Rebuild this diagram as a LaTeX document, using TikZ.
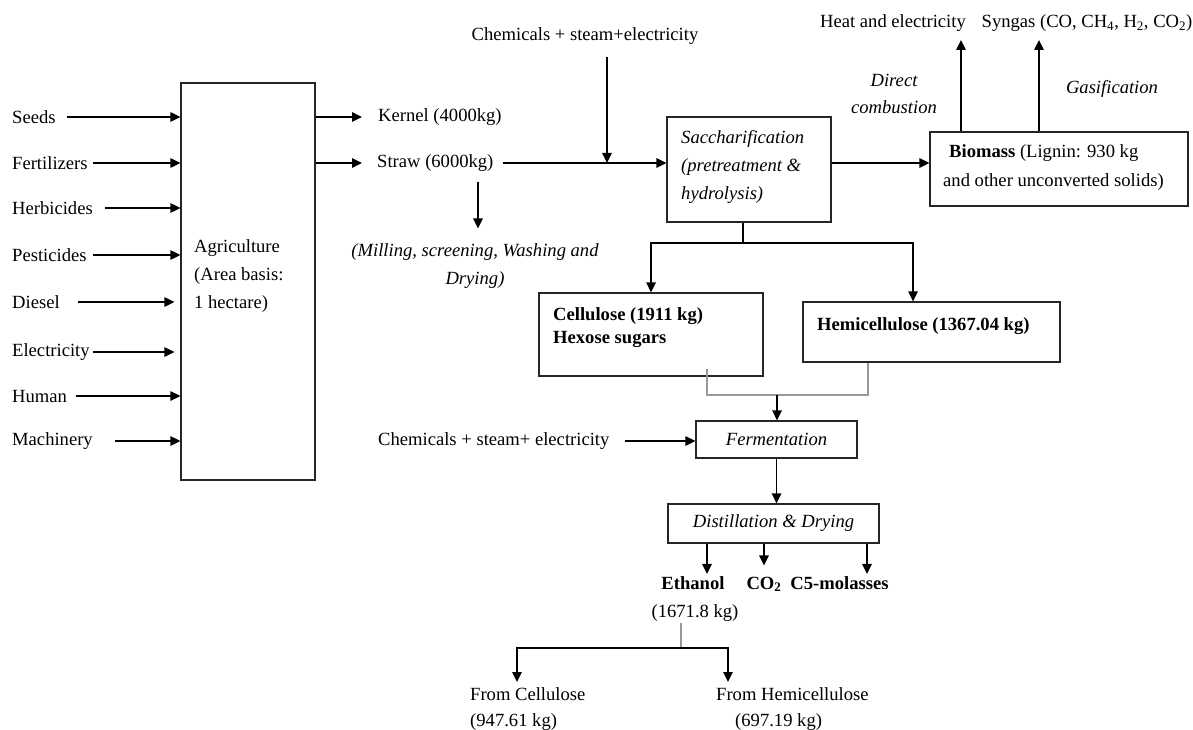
\documentclass[tikz,border=0pt]{standalone}
\usepackage{fontspec}
\setmainfont{Liberation Serif}
\usetikzlibrary{positioning, calc, arrows.meta}
\newcommand{\mainsize}{\fontsize{18.6pt}{27.8pt}\selectfont}

\begin{document}
\begin{tikzpicture}[x=1pt, y=-1pt,
    lbl/.style={inner sep=2pt, font=\mainsize},
    procbox/.style={draw=black!85, line width=1.3pt, inner sep=0pt, font=\mainsize},
    arr/.style={line width=1.4pt, -{Triangle[length=10pt,width=9.5pt]}},
    conn/.style={line width=1.4pt},
    grayconn/.style={line width=1.4pt, black!40}]
    \useasboundingbox (0,0) rectangle (1193,730);

    % agriculture stage
    \node[procbox, minimum width=134pt, minimum height=397pt] (agri) at (248,281.5) {};
    \node[lbl, anchor=west, align=left] (agritxt) at (192,276) {Agriculture\\(Area basis:\\1 hectare)};
    \foreach \i/\inp/\y/\gap/\short in {1/Seeds/117/9/0, 2/Fertilizers/163/3/0, 3/Herbicides/208/10/0,
        4/Pesticides/255/4/0, 5/Diesel/302/16/6, 6/Electricity/352/1/6, 7/Human/396/7/0, 8/Machinery/441/20/0}{
        \node[lbl, anchor=west] (in\i) at (10,\y) {\inp};
        \draw[arr, shorten >=\short pt] ([xshift=\gap pt]in\i.east) -- (agri.west |- in\i.east);
    }

    % field products
    \node[lbl, anchor=west] (kernel) at (376,117) {Kernel (4000kg)};
    \node[lbl, anchor=west] (straw) at (375,163) {Straw (6000kg)};
    \draw[arr, shorten >=14pt] (agri.east |- kernel) -- (kernel.west);
    \draw[arr, shorten >=13pt] (agri.east |- straw) -- (straw.west);
    \node[lbl, align=center, font=\mainsize\itshape] (mill) at (475,266) {(Milling, screening, Washing and\\Drying)};
    \coordinate (millin) at ([xshift=3pt]mill.north);
    \draw[arr, shorten <=8pt, shorten >=13pt] (straw.south -| millin) -- (millin);

    % saccharification
    \node[procbox, minimum width=164pt, minimum height=105pt] (sacch) at (749,169.5) {};
    \node[lbl, anchor=west, align=left, font=\mainsize\itshape] (sacchtxt) at (679,167) {Saccharification\\(pretreatment \&\\hydrolysis)};
    \node[lbl, anchor=base] (chem1) at (585,41) {Chemicals + steam+electricity};
    \coordinate (feed) at (607,163);
    \draw[arr, shorten <=7pt] (straw.east) -- (sacch.west |- straw);
    \draw[arr, shorten <=10pt] (chem1.south -| feed) -- (feed);

    % solid residues
    \node[procbox, minimum width=258pt, minimum height=74pt] (bio) at (1059,169) {};
    \node[lbl, anchor=base west] (biotxt1) at (947,158) {\textbf{Biomass} (Lignin: 930 kg};
    \node[lbl, anchor=base west] (biotxt2) at (941,186) {and other unconverted solids)};
    \draw[arr] (sacch.east |- straw) -- (bio.west |- straw);
    \node[lbl, anchor=base] (heat) at (893,28) {Heat and electricity};
    \node[lbl, anchor=base] (syngas) at (1087,28) {Syngas (CO, CH\textsubscript{4}, H\textsubscript{2}, CO\textsubscript{2})};
    \coordinate (heatin) at (961,40);
    \coordinate (gasin) at (1039,40);
    \draw[arr] (bio.north -| heatin) -- (heatin);
    \draw[arr] (bio.north -| gasin) -- (gasin);
    \node[lbl, align=center, font=\mainsize\itshape] (comb) at (894,94) {Direct\\combustion};
    \node[lbl, anchor=base, font=\mainsize\itshape] (gasif) at (1112,94) {Gasification};

    % sugar streams
    \coordinate (split) at (743,243);
    \node[procbox, minimum width=224pt, minimum height=83pt] (cell) at (651,334.5) {};
    \node[lbl, anchor=west, align=left, font=\mainsize\bfseries] (celltxt) at (551,328) {Cellulose (1911 kg)\\[-4.8pt]Hexose sugars};
    \node[procbox, minimum width=257pt, minimum height=60pt] (hemi) at (931.5,332) {};
    \node[lbl, anchor=base west, font=\mainsize\bfseries] (hemitxt) at (815,330) {Hemicellulose (1367.04 kg)};
    \draw[conn] (sacch.south -| split) -- (split);
    \draw[arr] (split) -| (cell.north);
    \draw[arr] (split) -| ([xshift=-18.5pt]hemi.north);

    % fermentation
    \coordinate (merge) at (777,395);
    \coordinate (cellout) at ([xshift=56pt,yshift=8pt]cell.south);
    \coordinate (hemiout) at ([xshift=-63.5pt]hemi.south);
    \draw[grayconn] (cellout) |- (merge) -| (hemiout);
    \node[procbox, minimum width=161pt, minimum height=37pt, font=\mainsize\itshape] (ferm) at (776.5,439.5) {Fermentation};
    \draw[arr] (merge) -- (merge |- ferm.north);
    \node[lbl, anchor=west] (chem2) at (376,441) {Chemicals + steam+ electricity};
    \draw[arr, shorten <=13pt] (chem2.east) -- (ferm.west |- chem2.east);

    % distillation and products
    \node[procbox, minimum width=211pt, minimum height=39pt, font=\mainsize\itshape] (dist) at (773.5,523.5) {Distillation \& Drying};
    \draw[arr] (ferm.south) -- (ferm.south |- dist.north);
    \node[lbl, anchor=base, font=\mainsize\bfseries] (eth) at (693,589) {Ethanol};
    \node[lbl, anchor=base, font=\mainsize\bfseries] (co2) at (764,589) {CO\textsubscript{2}};
    \node[lbl, anchor=base, font=\mainsize\bfseries] (c5) at (839.5,589) {C5-molasses};
    \coordinate (ethin) at ([xshift=14pt]eth.north);
    \coordinate (c5in) at ([xshift=27.5pt]c5.north);
    \draw[arr] (dist.south -| ethin) -- (ethin);
    \draw[arr, shorten >=9pt] (dist.south -| co2.north) -- (co2.north);
    \draw[arr] (dist.south -| c5in) -- (c5in);

    % ethanol split
    \node[lbl, anchor=base] (ethkg) at (695,617) {(1671.8 kg)};
    \coordinate (split2) at (681,648);
    \coordinate (fromcin) at (517,682);
    \coordinate (fromhin) at (728,682);
    \draw[grayconn] (ethkg.south -| split2) -- (split2);
    \draw[arr] (split2) -| (fromcin);
    \draw[arr] (split2) -| (fromhin);
    \node[lbl, anchor=base west] (fromc) at (468,700) {From Cellulose};
    \node[lbl, anchor=base west] (fromckg) at (468,726) {(947.61 kg)};
    \node[lbl, anchor=base west] (fromh) at (714,700) {From Hemicellulose};
    \node[lbl, anchor=base west] (fromhkg) at (733,726) {(697.19 kg)};
\end{tikzpicture}
\end{document}
